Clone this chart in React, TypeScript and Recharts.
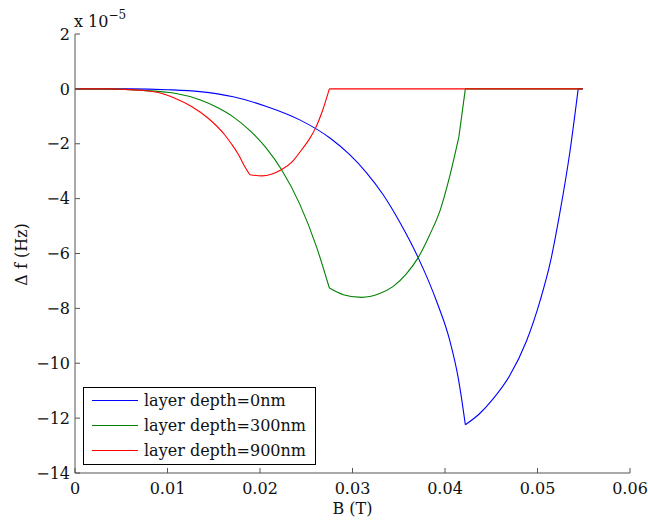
import React from "react";
import { LineChart, Line, XAxis, YAxis, Legend } from "recharts";

// Frequency shift Δf is stored in units of 1e-5 Hz; B is the field in tesla.
const bDepth0 = [
  0, 0.006, 0.01, 0.0135, 0.0171, 0.0207, 0.0243, 0.0276, 0.0297, 0.0315, 0.0333,
  0.0351, 0.0371, 0.0391, 0.0405, 0.0414, 0.0418, 0.0422, 0.0437, 0.0452, 0.047,
  0.0488, 0.0503, 0.0514, 0.0524, 0.0535, 0.0544, 0.0549,
];
const dfDepth0 = [
  0, 0, -0.03, -0.1, -0.29, -0.64, -1.13, -1.8, -2.4, -3.05, -3.85,
  -4.85, -6.15, -7.75, -9.15, -10.48, -11.3, -12.24, -11.85, -11.3, -10.45,
  -9.2, -7.7, -6.3, -4.55, -2.3, 0, 0,
];
// field values where the curve has a sharp corner
const cornersDepth0 = [0.0422, 0.0544];

const bDepth300 = [
  0, 0.004, 0.007, 0.0108, 0.0135, 0.0155, 0.0171, 0.019, 0.0207, 0.0223, 0.0243,
  0.0261, 0.0275, 0.029, 0.031, 0.0328, 0.0344, 0.0358, 0.0371, 0.0383, 0.0395,
  0.0405, 0.0415, 0.0422, 0.0549,
];
const dfDepth300 = [
  0, -0.01, -0.05, -0.16, -0.4, -0.7, -1.02, -1.55, -2.17, -2.93, -4.2,
  -5.75, -7.26, -7.5, -7.6, -7.48, -7.2, -6.75, -6.15, -5.35, -4.4,
  -3.2, -1.75, 0, 0,
];
const cornersDepth300 = [0.0275, 0.0415, 0.0422];

const bDepth900 = [
  0, 0.0036, 0.0054, 0.0072, 0.009, 0.0108, 0.0126, 0.0144, 0.0162, 0.0169, 0.0177,
  0.0183, 0.0189, 0.0202, 0.0213, 0.0223, 0.0235, 0.0245, 0.0253, 0.026, 0.0268,
  0.0275, 0.0549,
];
const dfDepth900 = [
  0, 0, -0.02, -0.05, -0.13, -0.34, -0.64, -1.07, -1.68, -2.0, -2.41,
  -2.8, -3.13, -3.17, -3.1, -2.95, -2.65, -2.22, -1.85, -1.43, -0.75,
  0, 0,
];
const cornersDepth900 = [0.0189, 0.0275];

const xTicks = [0, 0.01, 0.02, 0.03, 0.04, 0.05, 0.06];
const yTicks = [2, 0, -2, -4, -6, -8, -10, -12, -14];

const seriesNames = ["layer depth=0nm", "layer depth=300nm", "layer depth=900nm"];
const seriesColors = ["#0000ff", "#008000", "#ff0000"];

type Pt = { b: number; df: number };

const toPoints = (b: number[], df: number[]): Pt[] => b.map((v, i) => ({ b: v, df: df[i] }));

// cut a curve into smooth pieces at its corners so the spline keeps them sharp
const splitAt = (pts: Pt[], corners: number[]) => {
  const segs: Pt[][] = [];
  let cur: Pt[] = [];
  pts.forEach((p) => {
    cur.push(p);
    if (corners.includes(p.b)) {
      segs.push(cur);
      cur = [p];
    }
  });
  if (cur.length > 1) segs.push(cur);
  return segs;
};

const series = [
  splitAt(toPoints(bDepth0, dfDepth0), cornersDepth0),
  splitAt(toPoints(bDepth300, dfDepth300), cornersDepth300),
  splitAt(toPoints(bDepth900, dfDepth900), cornersDepth900),
];

const FONT = "'DejaVu Serif', 'Liberation Serif', serif";
const FS = 16;
const AXIS = "#555";
const tickStyle = { fontFamily: FONT, fontSize: FS, fill: "#111" };

const fmtY = (v: number) => (v < 0 ? `\u2212${Math.abs(v)}` : `${v}`);
const fmtX = (v: number) => (v === 0 ? "0" : v.toFixed(2));

function LegendBox(props: any) {
  // only the first piece of each curve carries a legend entry
  const items = (props.payload || []).filter((p: any) => p.type !== "none");
  return (
    <div
      style={{
        width: 233,
        height: 78,
        boxSizing: "border-box",
        border: "1.5px solid #000",
        background: "#fff",
        fontFamily: FONT,
        fontSize: FS,
        color: "#111",
      }}
    >
      {items.map((p: any) => (
        <div key={p.value} style={{ display: "flex", alignItems: "center", height: 25 }}>
          <span
            style={{
              display: "inline-block",
              width: 46,
              borderTop: `1.5px solid ${p.color}`,
              marginLeft: 8,
              marginRight: 6,
            }}
          />
          <span>{p.value}</span>
        </div>
      ))}
    </div>
  );
}

export default function App() {
  return (
    <div style={{ position: "absolute", left: 0, top: 0, width: 648, height: 522, background: "#fff", fontFamily: FONT }}>
      <LineChart width={648} height={522} margin={{ top: 34, right: 18, bottom: 0, left: 0 }}>
        <XAxis
          type="number"
          dataKey="b"
          domain={[0, 0.06]}
          ticks={xTicks}
          tickFormatter={fmtX}
          allowDataOverflow
          height={49}
          stroke={AXIS}
          tickSize={-5}
          tickMargin={15}
          tick={tickStyle}
          label={{ value: "B (T)", position: "insideBottom", offset: 8, style: { fontFamily: FONT, fontSize: FS, fill: "#111" } }}
        />
        <YAxis
          type="number"
          dataKey="df"
          domain={[-14, 2]}
          ticks={yTicks}
          tickFormatter={fmtY}
          allowDataOverflow
          width={75}
          stroke={AXIS}
          tickSize={-5}
          tickMargin={10}
          tick={tickStyle}
        />
        <Legend
          layout="vertical"
          align="center"
          verticalAlign="middle"
          content={LegendBox}
          wrapperStyle={{ left: 83, top: 387, width: 233, height: 78 }}
        />
        {series.map((segs, i) =>
          segs.map((data, j) => (
            <Line
              key={`${seriesNames[i]}-${j}`}
              data={data}
              dataKey="df"
              name={seriesNames[i]}
              legendType={j === 0 ? "line" : "none"}
              type="monotoneX"
              stroke={seriesColors[i]}
              strokeWidth={1.1}
              dot={false}
              activeDot={false}
              isAnimationActive={false}
            />
          ))
        )}
      </LineChart>
      <svg
        width={648}
        height={522}
        style={{ position: "absolute", left: 0, top: 0, pointerEvents: "none" }}
      >
        <text x={74} y={27} fontFamily={FONT} fontSize={FS} fill="#111">
          x 10
          <tspan dy={-8} fontSize={12}>
            {"\u22125"}
          </tspan>
        </text>
        <text
          x={27}
          y={254.5}
          transform="rotate(-90 27 254.5)"
          textAnchor="middle"
          fontFamily={FONT}
          fontSize={FS}
          fill="#111"
        >
          Δ f (Hz)
        </text>
      </svg>
    </div>
  );
}
